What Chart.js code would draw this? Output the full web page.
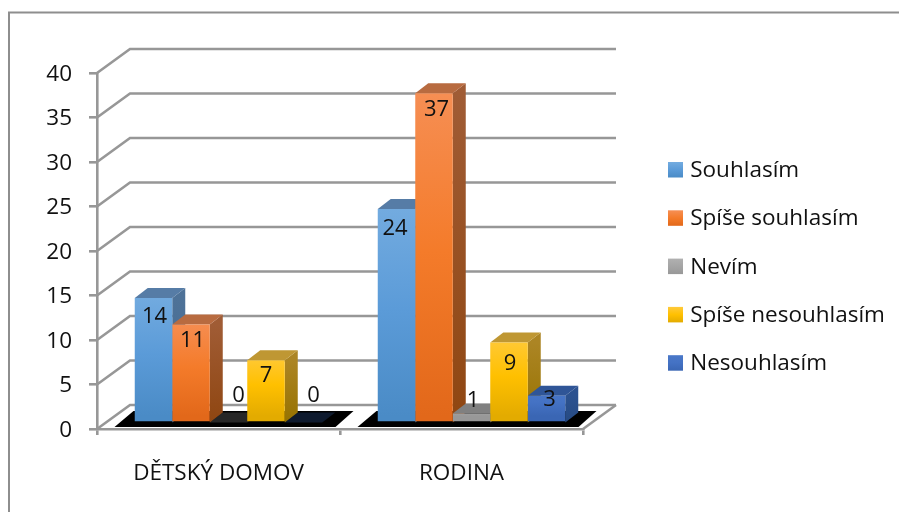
<!DOCTYPE html>
<html><head><meta charset="utf-8">
<style>html,body{margin:0;padding:0;background:#fff}canvas{display:block}</style>
<script src="https://cdn.jsdelivr.net/npm/chart.js@4"></script>
</head><body><div style="width:899px;height:512px"><canvas id="c" width="899" height="512"></canvas></div>
<script>
const categories = ["DĚTSKÝ DOMOV", "RODINA"];
const seriesNames = ["Souhlasím", "Spíše souhlasím", "Nevím", "Spíše nesouhlasím", "Nesouhlasím"];
const souhlasim = [14, 24];
const spiseSouhlasim = [11, 37];
const nevim = [0, 1];
const spiseNesouhlasim = [7, 9];
const nesouhlasim = [0, 3];
const seriesValues = [souhlasim, spiseSouhlasim, nevim, spiseNesouhlasim, nesouhlasim];
const frontGradients = [["#74ace0","#5b9bd8","#4a8bc6"],["#f68f55","#f47b2a","#e2681a"],["#b0b0b0","#a5a5a5","#989898"],["#ffca3c","#ffc000","#e3ab00"],["#4a78c8","#4472c4","#3a66b4"]];
const sideGradients = [["#4e7298","#42688f"],["#a05c35","#8f4611"],["#7a7a7a","#6e6e6e"],["#ac8524","#967200"],["#2c5290","#264a83"]];
const topColors = ["#567ca6","#b86b40","#808080","#bf9733","#2f5597"];

const GREY = "#979797", FONT = "'Open Sans', sans-serif", FSIZE = 22.5, DATA_SIZE = 22;
const LEG_PAD = 48.3 - FSIZE;
const DX = 10, DY = -6.5, SX = 13, SY = -10, BX = 33, BY = -24;

function vGrad(ctx, y0, y1, stops){
  const g = ctx.createLinearGradient(0, y0, 0, y1);
  stops.forEach((s,i)=>g.addColorStop(i/(stops.length-1), s));
  return g;
}
function poly(ctx, pts, fill){
  ctx.beginPath(); pts.forEach((p,i)=> i?ctx.lineTo(p[0],p[1]):ctx.moveTo(p[0],p[1])); ctx.closePath();
  ctx.fillStyle = fill; ctx.fill();
}
const labelDy = {0:-27, 1:-13, 3:3.5, 7:15.5, 9:21, 11:16.5, 14:18.8, 24:19.5, 37:16.5};
const labelDx = {0:10, 1:1.5, 3:3, 7:0, 9:1, 11:1.5, 14:1, 24:-1.5, 37:2.5};

const scene3d = {
  id: "scene3d",
  beforeLayout(chart){
    const lg = chart.legend;
    if (lg && !lg._wrapped){
      const f = lg.fit;
      lg.fit = function(){ f.call(this); this.width = 316; };
      lg._wrapped = true;
    }
  },
  afterLayout(chart){
    const lg = chart.legend, w = lg.width, h = lg.height;
    lg.left = 668 - LEG_PAD; lg.right = lg.left + w;
    lg.top = 159.5 - LEG_PAD; lg.bottom = lg.top + h;
  },
  beforeDraw(chart){
    const {ctx} = chart, y = chart.scales.y, x = chart.scales.x;
    ctx.save();
    ctx.fillStyle = "#fff"; ctx.fillRect(0,0,chart.width,chart.height);
    ctx.strokeStyle = "#8e8e8e"; ctx.lineWidth = 2;
    ctx.beginPath(); ctx.moveTo(9,513); ctx.lineTo(9,12.5); ctx.lineTo(900,12.5); ctx.stroke();
    ctx.strokeStyle = GREY; ctx.lineWidth = 2.6;
    const L = x.left, R = x.right;
    y.ticks.forEach(t=>{
      const py = y.getPixelForValue(t.value);
      ctx.beginPath(); ctx.moveTo(L,py); ctx.lineTo(L+BX,py+BY); ctx.lineTo(R+BX,py+BY); ctx.stroke();
    });
    const y0 = y.getPixelForValue(0);
    ctx.beginPath(); ctx.moveTo(R,y0); ctx.lineTo(R+BX,y0+BY); ctx.stroke();
    ctx.restore();
  },
  beforeDatasetsDraw(chart){
    const {ctx} = chart, y = chart.scales.y, x = chart.scales.x;
    const y0 = y.getPixelForValue(0);
    ctx.save();
    categories.forEach((_,i)=>{
      const c = x.getPixelForValue(i);
      poly(ctx, [[c-104,y0-2],[c-85,y0-18],[c+135,y0-18],[c+117,y0-2]], "#000");
    });
    ctx.translate(DX, DY);
    categories.forEach((_,i)=>{
      seriesValues.forEach((vals,d)=>{
        const bar = chart.getDatasetMeta(d).data[i];
        const l = bar.x - bar.width/2, r = bar.x + bar.width/2, t = bar.y, b = y0;
        if (vals[i] > 0){
          poly(ctx, [[r,t],[r+SX,t+SY],[r+SX,b+SY],[r,b]], vGrad(ctx,t,b,sideGradients[d]));
          poly(ctx, [[l,t],[l+SX,t+SY],[r+SX,t+SY],[r,t]], topColors[d]);
        } else {
          ctx.globalAlpha = 0.3;
          poly(ctx, [[l,t],[l+SX,t+SY],[r+SX,t+SY],[r,t]], topColors[d]);
          ctx.globalAlpha = 1;
        }
      });
    });
    // stays translated for the library's own bars
  },
  afterDatasetsDraw(chart){
    const {ctx} = chart;
    ctx.restore();
    ctx.save();
    ctx.fillStyle = "#111"; ctx.font = DATA_SIZE+"px "+FONT;
    ctx.textAlign = "center"; ctx.textBaseline = "middle";
    seriesValues.forEach((vals,d)=>{
      vals.forEach((v,i)=>{
        const bar = chart.getDatasetMeta(d).data[i];
        ctx.fillText(String(v), bar.x + DX + labelDx[v], bar.y + DY + labelDy[v]);
      });
    });
    ctx.restore();
  },
  afterDraw(chart){
    const {ctx} = chart;
    ctx.save();
    seriesNames.forEach((_,i)=>{
      const top = 162 + i*48.3;
      ctx.fillStyle = vGrad(ctx, top, top+15.5, frontGradients[i]);
      ctx.fillRect(668, top, 15, 15.5);
    });
    ctx.restore();
  }
};

new Chart(document.getElementById("c"), {
  type: "bar",
  data: {
    labels: categories,
    datasets: seriesValues.map((vals,d)=>({
      label: seriesNames[d],
      data: vals,
      clip: false,
      backgroundColor: c => {
        const ch = c.chart;
        if (!ch.chartArea || c.raw === undefined) return frontGradients[d][1];
        const ys = ch.scales.y;
        return vGrad(ch.ctx, ys.getPixelForValue(c.raw)+DY, ys.getPixelForValue(0)+DY, frontGradients[d]);
      },
      borderWidth: 0
    }))
  },
  options: {
    responsive: false,
    animation: false,
    layout: { padding: { left: 0, top: 73, right: 0, bottom: 23 } },
    scales: {
      x: {
        afterFit: s => { s.height = 60; },
        grid: { drawOnChartArea: false, color: GREY, lineWidth: 2.6, tickLength: 6, offset: true },
        border: { color: GREY, width: 2.6 },
        ticks: { color: "#111", font: { family: FONT, size: FSIZE }, padding: 25, maxRotation: 0 }
      },
      y: {
        min: 0, max: 40,
        afterFit: s => { s.width = 97; },
        grid: { drawOnChartArea: false, color: GREY, lineWidth: 2.6, tickLength: 8 },
        border: { color: GREY, width: 2.6 },
        ticks: { stepSize: 5, color: "#111", font: { family: FONT, size: FSIZE }, padding: 17, labelOffset: 1.5 }
      }
    },
    datasets: { bar: { categoryPercentage: 0.7716, barPercentage: 1 } },
    plugins: {
      tooltip: { enabled: false },
      title: { display: false },
      legend: {
        position: "right", align: "start",
        labels: {
          color: "#111", font: { family: FONT, size: FSIZE }, boxWidth: 11, boxHeight: 15, padding: LEG_PAD,
          generateLabels(chart){
            return Chart.defaults.plugins.legend.labels.generateLabels(chart).map(it=>{
              it.fillStyle = "transparent";
              it.strokeStyle = "transparent"; it.lineWidth = 0;
              return it;
            });
          }
        }
      }
    }
  },
  plugins: [scene3d]
});
</script></body></html>
